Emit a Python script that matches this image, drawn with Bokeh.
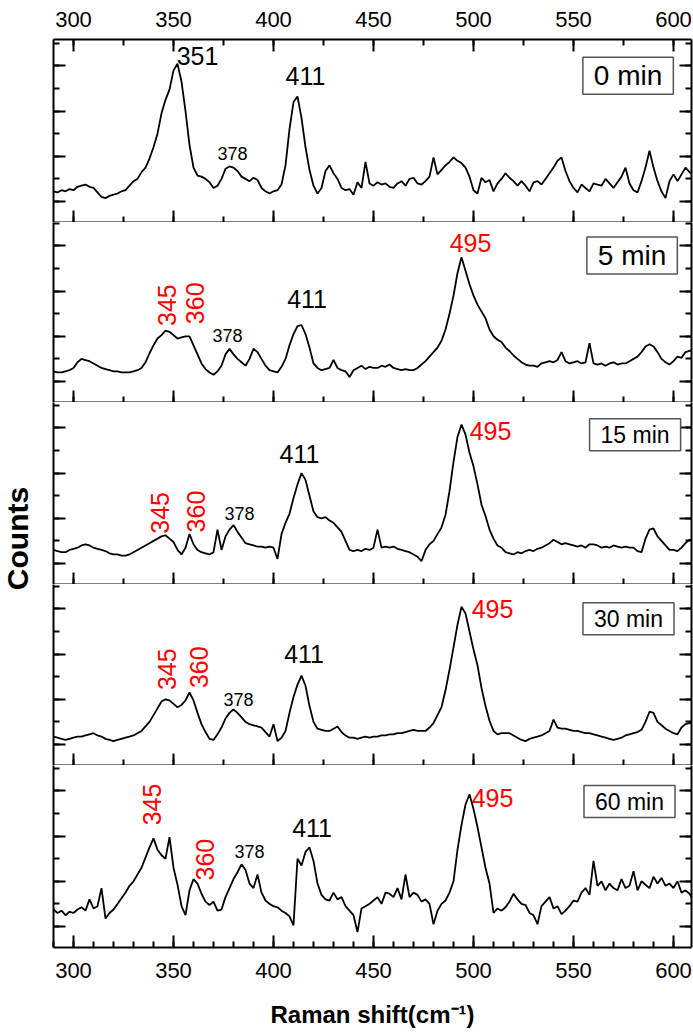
import numpy as np
from bokeh.plotting import figure
from bokeh.layouts import column, row
from bokeh.models import (Range1d, LinearAxis, SingleIntervalTicker, Label,
                          CustomJSTickFormatter)
from bokeh.core.properties import value
from bokeh.embed import file_html
from bokeh.resources import INLINE

# ---------------- data ----------------
shift = list(range(290, 612, 2))  # Raman shift grid (cm-1)

counts_0min = [
    0.45, 0.4, 0.5, 0.45, 0.55, 0.5, 0.65, 0.7, 0.75, 0.65,
    0.6, 0.4, 0.2, 0.15, 0.25, 0.3, 0.35, 0.45, 0.5, 0.7,
    0.9, 1.0, 1.3, 1.5, 1.9, 2.4, 3.0, 3.9, 4.5, 4.95,
    5.8, 6.1, 5.3, 4.0, 2.5, 1.5, 1.15, 1.1, 1.0, 0.85,
    0.6, 0.7, 1.0, 1.45, 1.55, 1.5, 1.35, 1.1, 1.0, 0.9,
    1.05, 0.95, 0.6, 0.45, 0.35, 0.45, 0.5, 0.75, 1.6, 3.2,
    4.4, 4.65, 3.7, 2.4, 1.4, 0.7, 0.35, 0.6, 1.35, 1.6,
    1.25, 1.0, 0.6, 0.5, 0.55, 0.3, 0.85, 0.6, 1.75, 0.8,
    0.7, 0.85, 0.75, 0.8, 0.65, 0.6, 0.8, 0.9, 0.7, 1.0,
    1.05, 0.8, 0.75, 0.9, 1.1, 1.95, 1.2, 1.4, 1.6, 1.75,
    1.95, 1.8, 1.7, 1.5, 1.1, 0.5, 0.35, 1.05, 0.85, 0.95,
    0.45, 0.8, 1.0, 1.25, 1.05, 0.9, 0.7, 0.9, 0.7, 0.45,
    0.85, 0.9, 0.75, 1.0, 1.25, 1.5, 1.8, 1.95, 1.35, 0.9,
    0.6, 0.4, 0.75, 0.6, 0.45, 0.8, 0.75, 0.7, 1.0, 0.8,
    0.6, 0.85, 1.1, 1.5, 0.8, 0.5, 0.4, 0.9, 1.5, 2.25,
    1.5, 0.9, 0.45, 0.15, 0.9, 1.2, 0.9, 1.2, 1.5, 1.3,
    1.2,
]

counts_5min = [
    0.45, 0.4, 0.4, 0.45, 0.5, 0.6, 0.85, 1.0, 0.95, 0.9,
    0.8, 0.7, 0.6, 0.55, 0.5, 0.45, 0.45, 0.4, 0.4, 0.4,
    0.45, 0.5, 0.6, 0.85, 1.25, 1.6, 1.9, 2.05, 2.25, 2.2,
    2.05, 1.9, 1.95, 2.0, 2.0, 1.6, 1.2, 0.8, 0.55, 0.4,
    0.3, 0.45, 0.7, 1.2, 1.45, 1.2, 1.0, 0.85, 0.7, 1.0,
    1.45, 1.3, 1.0, 0.7, 0.5, 0.45, 0.4, 0.65, 1.0, 1.6,
    2.1, 2.45, 2.5, 2.1, 1.5, 0.8, 0.6, 0.5, 0.55, 0.6,
    0.95, 0.6, 0.5, 0.45, 0.2, 0.5, 0.6, 0.7, 0.55, 0.65,
    0.6, 0.6, 0.7, 0.65, 0.75, 0.6, 0.55, 0.5, 0.55, 0.5,
    0.5, 0.6, 0.75, 0.9, 1.1, 1.3, 1.5, 1.8, 2.3, 3.0,
    3.8, 4.8, 5.5, 4.9, 4.3, 3.8, 3.4, 3.1, 2.8, 2.3,
    2.0, 1.85, 1.75, 1.5, 1.35, 1.15, 1.0, 0.85, 0.75, 0.7,
    0.7, 0.65, 0.8, 0.85, 0.9, 0.85, 0.95, 1.3, 0.9, 0.8,
    0.85, 0.9, 0.8, 0.85, 1.7, 0.8, 0.75, 0.8, 0.7, 0.8,
    0.85, 0.75, 0.8, 0.8, 0.9, 1.0, 1.1, 1.3, 1.55, 1.65,
    1.55, 1.3, 1.0, 0.85, 0.75, 0.9, 1.1, 1.05, 1.3, 1.35,
    1.4,
]

counts_15min = [
    0.6, 0.55, 0.5, 0.5, 0.6, 0.65, 0.7, 0.8, 0.85, 0.8,
    0.7, 0.65, 0.6, 0.55, 0.45, 0.4, 0.4, 0.35, 0.35, 0.4,
    0.5, 0.6, 0.7, 0.8, 0.9, 1.0, 1.1, 1.2, 1.25, 1.1,
    0.95, 0.6, 0.4, 0.7, 1.3, 0.85, 0.6, 0.5, 0.45, 0.4,
    0.5, 1.5, 0.6, 1.2, 1.5, 1.7, 1.4, 1.15, 0.9, 0.85,
    0.8, 0.75, 0.75, 0.7, 0.75, 0.7, 0.2, 1.3, 1.8, 2.2,
    2.9, 3.5, 4.0, 3.7, 3.0, 2.3, 2.05, 2.0, 2.05, 1.9,
    1.8, 1.6, 1.4, 1.0, 0.6, 0.55, 0.6, 0.55, 0.65, 0.6,
    0.7, 1.5, 0.7, 0.75, 0.7, 0.75, 0.65, 0.6, 0.55, 0.5,
    0.4, 0.3, 0.1, 0.6, 0.85, 1.0, 1.3, 1.6, 2.15, 3.2,
    4.5, 5.6, 6.15, 5.7, 4.9, 4.3, 3.5, 2.6, 2.1, 1.5,
    1.1, 0.8, 0.7, 0.5, 0.45, 0.4, 0.5, 0.45, 0.55, 0.6,
    0.55, 0.65, 0.7, 0.8, 0.9, 1.05, 0.95, 0.85, 0.9, 0.85,
    0.8, 0.75, 0.8, 0.7, 0.85, 0.85, 0.8, 0.7, 0.75, 0.7,
    0.8, 0.75, 0.7, 0.75, 0.7, 0.7, 0.55, 0.5, 1.1, 1.5,
    1.55, 1.2, 1.0, 0.8, 0.6, 0.6, 0.55, 0.7, 0.9, 1.05,
    1.0,
]

counts_30min = [
    0.35, 0.3, 0.25, 0.2, 0.25, 0.3, 0.35, 0.35, 0.4, 0.45,
    0.5, 0.4, 0.35, 0.25, 0.2, 0.15, 0.2, 0.25, 0.3, 0.35,
    0.4, 0.5, 0.6, 0.8, 1.0, 1.3, 1.6, 1.9, 2.0, 1.95,
    1.8, 1.65, 1.75, 1.95, 2.3, 1.95, 1.4, 0.9, 0.55, 0.25,
    0.2, 0.45, 0.75, 1.15, 1.4, 1.55, 1.4, 1.2, 1.0, 0.9,
    0.85, 0.8, 0.75, 0.55, 0.35, 0.9, 0.15, 0.3, 0.6, 1.4,
    2.1, 2.65, 3.05, 2.6, 1.7, 1.0, 0.7, 0.65, 0.6, 0.6,
    0.7, 0.8, 0.55, 0.4, 0.3, 0.3, 0.25, 0.3, 0.35, 0.3,
    0.35, 0.35, 0.4, 0.4, 0.45, 0.45, 0.5, 0.5, 0.55, 0.6,
    0.65, 0.6, 0.6, 0.6, 0.75, 0.95, 1.3, 1.65, 2.4, 3.3,
    4.3, 5.3, 6.1, 5.8, 5.0, 4.2, 3.5, 2.5, 1.7, 1.05,
    0.6, 0.45, 0.5, 0.5, 0.5, 0.4, 0.3, 0.2, 0.15, 0.25,
    0.3, 0.35, 0.4, 0.5, 0.6, 1.1, 0.75, 0.7, 0.7, 0.65,
    0.6, 0.6, 0.55, 0.5, 0.5, 0.45, 0.4, 0.35, 0.3, 0.25,
    0.2, 0.25, 0.3, 0.4, 0.45, 0.5, 0.55, 0.65, 1.0, 1.45,
    1.4, 1.0, 0.85, 0.7, 0.6, 0.5, 0.45, 0.75, 0.9, 0.95,
    0.95,
]

counts_60min = [
    0.75, 0.6, 0.7, 0.5, 0.65, 0.6, 0.75, 0.85, 0.7, 1.2,
    0.8, 0.9, 1.7, 0.35, 0.6, 0.75, 1.0, 1.25, 1.5, 1.8,
    2.0, 2.3, 2.6, 3.05, 3.5, 3.9, 3.4, 3.15, 3.0, 3.95,
    2.6, 1.85, 0.9, 0.5, 1.6, 2.1, 1.9, 1.45, 1.1, 0.95,
    1.1, 0.7, 0.75, 1.3, 1.7, 2.1, 2.4, 2.75, 2.5, 1.9,
    1.7, 2.3, 1.5, 1.15, 1.0, 0.9, 0.85, 0.7, 0.6, 0.45,
    0.05, 3.0, 2.7, 3.3, 3.5, 2.9, 1.9, 1.4, 1.2, 1.15,
    1.5, 1.2, 1.3, 0.9, 0.7, 0.5, -0.25, 0.8, 0.9, 1.0,
    1.15, 1.3, 1.0, 1.5, 1.45, 1.3, 1.7, 1.2, 2.3, 1.3,
    1.5, 1.4, 1.1, 1.2, 1.0, 0.1, 0.7, 1.0, 1.15, 1.5,
    2.0, 3.4, 4.5, 5.4, 5.85, 5.2, 4.4, 3.5, 2.6, 1.9,
    0.6, 0.8, 0.7, 0.85, 1.1, 1.45, 1.2, 1.0, 0.95, 0.6,
    0.5, 0.1, 0.9, 1.1, 1.3, 0.8, 0.9, 0.55, 0.7, 0.9,
    1.15, 1.1, 1.5, 1.7, 1.4, 2.9, 1.8, 2.0, 1.6, 1.9,
    1.7, 1.6, 2.1, 1.7, 1.8, 2.45, 1.6, 2.0, 1.85, 1.7,
    2.2, 1.9, 2.15, 1.8, 1.9, 1.7, 2.0, 1.5, 1.6, 1.45,
    1.15,
]

series = [counts_0min, counts_5min, counts_15min, counts_30min, counts_60min]
time_labels = ["0 min", "5 min", "15 min", "30 min", "60 min"]

# peak annotations: (text, x, y, color, font px, angle deg)
peak_labels = [
    [("351", 362.0, 6.44, "black", 25, 0), ("411", 416.0, 5.56, "black", 25, 0),
     ("378", 379.5, 2.13, "black", 18, 0)],
    [("345", 346.8, 3.38, "red", 25, 90), ("360", 360.5, 3.46, "red", 25, 90),
     ("378", 377.0, 2.04, "black", 18, 0), ("411", 416.8, 3.66, "black", 25, 0),
     ("495", 498.5, 6.12, "red", 25, 0)],
    [("345", 343.0, 2.24, "red", 25, 90), ("360", 361.0, 2.30, "red", 25, 90),
     ("378", 383.0, 2.20, "black", 18, 0), ("411", 413.0, 4.83, "black", 25, 0),
     ("495", 508.5, 5.87, "red", 25, 0)],
    [("345", 346.5, 3.33, "red", 25, 90), ("360", 362.5, 3.42, "red", 25, 90),
     ("378", 382.5, 2.00, "black", 18, 0), ("411", 415.3, 4.02, "black", 25, 0),
     ("495", 509.5, 5.98, "red", 25, 0)],
    [("345", 339.0, 5.40, "red", 25, 90), ("360", 365.5, 2.96, "red", 25, 90),
     ("378", 388.0, 3.30, "black", 18, 0), ("411", 419.3, 4.34, "black", 25, 0),
     ("495", 509.5, 5.69, "red", 25, 0)],
]
time_label_pos = [(577.3, 5.56, 28), (579.3, 5.57, 28), (580.8, 5.70, 23),
                  (577.5, 5.56, 23), (578.0, 5.53, 23)]

# ---------------- layout ----------------
FONT = "Liberation Sans"
PANEL_H = [183, 180, 182, 181, 182]
TICK_PX = 22.6
BOTTOM_GAP = 21
TOP_BORDER = 39
BOTTOM_BORDER = 87
Y_LABEL_W = 40
LEFT_BORDER = 53 - Y_LABEL_W
WIDTH = 693 - Y_LABEL_W
TOTAL_H = TOP_BORDER + sum(PANEL_H) + BOTTOM_BORDER

xr = Range1d(290, 609)
blank = CustomJSTickFormatter(code="return ''")


def style_axis(ax, major=12, minor=6, labels=False):
    ax.major_tick_in = major
    ax.major_tick_out = 0
    ax.minor_tick_in = minor
    ax.minor_tick_out = 0
    ax.axis_line_width = 2
    ax.axis_line_color = "black"
    ax.major_tick_line_width = 2
    ax.minor_tick_line_width = 2
    ax.major_tick_line_color = "black"
    ax.minor_tick_line_color = "black"
    if labels:
        ax.major_label_text_font = FONT
        ax.major_label_text_font_size = "22px"
        ax.major_label_text_color = "black"
    else:
        ax.formatter = blank
        ax.major_label_text_font_size = "1px"
        ax.major_label_standoff = 0


figs = []
for i in range(5):
    h = PANEL_H[i]
    y0 = -BOTTOM_GAP / TICK_PX
    yr = Range1d(y0, y0 + h / TICK_PX)
    top = TOP_BORDER if i == 0 else 0
    bottom = BOTTOM_BORDER if i == 4 else 0
    p = figure(width=WIDTH, height=h + top + bottom, x_range=xr, y_range=yr,
               output_backend="svg", toolbar_location=None,
               x_axis_location=None, y_axis_location=None,
               min_border_left=LEFT_BORDER, min_border_right=2,
               min_border_top=top, min_border_bottom=bottom)
    p.outline_line_color = None
    p.xgrid.grid_line_color = None
    p.ygrid.grid_line_color = None
    p.background_fill_color = "white"
    p.border_fill_color = "white"

    # bottom axis (panel boundary)
    bax = LinearAxis(ticker=SingleIntervalTicker(interval=50, num_minor_ticks=5 if i == 4 else 2))
    style_axis(bax, labels=(i == 4))
    if i == 4:
        bax.major_label_standoff = 15
        bax.axis_label = "Raman shift(cm\u207b\u00b9)"
        bax.axis_label_text_font = FONT
        bax.axis_label_text_font_style = "bold"
        bax.axis_label_text_font_size = "24px"
        bax.axis_label_text_color = "black"
        bax.axis_label_standoff = 20
    p.add_layout(bax, "below")

    if i == 0:
        tax = LinearAxis(ticker=SingleIntervalTicker(interval=50, num_minor_ticks=2))
        style_axis(tax, labels=True)
        tax.major_label_standoff = 13
        p.add_layout(tax, "above")

    for side in ("left", "right"):
        yax = LinearAxis(ticker=SingleIntervalTicker(interval=2, num_minor_ticks=2))
        style_axis(yax)
        p.add_layout(yax, side)

    p.line(shift, series[i], line_color="black", line_width=1.8)

    for (txt, lx, ly, col, fs, ang) in peak_labels[i]:
        p.add_layout(Label(x=lx, y=ly, text=txt, text_color=col, text_font=FONT,
                           text_font_size=f"{fs}px", angle=ang, angle_units="deg",
                           text_align="center", text_baseline="middle"))

    tx, ty, tfs = time_label_pos[i]
    p.add_layout(Label(x=tx, y=ty, text=time_labels[i], text_color="black", text_font=FONT,
                       text_font_size=f"{tfs}px", text_align="center", text_baseline="middle",
                       border_line_color="#555555", border_line_width=1.5,
                       background_fill_color="white", padding=(11, 3)))
    figs.append(p)

# narrow strip carrying the shared y-axis title
ylab = figure(width=Y_LABEL_W, height=TOTAL_H, x_range=Range1d(0, Y_LABEL_W),
              y_range=Range1d(0, TOTAL_H), output_backend="svg", toolbar_location=None,
              x_axis_location=None, y_axis_location=None,
              min_border=0, min_border_left=0, min_border_right=0,
              min_border_top=0, min_border_bottom=0)
ylab.outline_line_color = None
ylab.xgrid.grid_line_color = None
ylab.ygrid.grid_line_color = None
ylab.add_layout(Label(x=17, y=TOTAL_H - 538, text="Counts", text_color="black",
                      text_font=FONT, text_font_style="bold", text_font_size="30px",
                      angle=90, angle_units="deg", text_align="center",
                      text_baseline="middle"))

layout = row(ylab, column(*figs, spacing=0), spacing=0)
open("out.html", "w").write(file_html(layout, INLINE))
